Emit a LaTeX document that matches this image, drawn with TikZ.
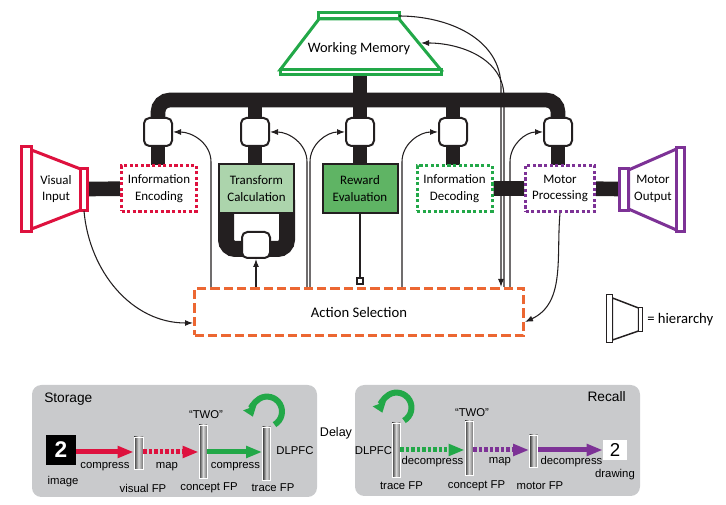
\documentclass[tikz,border=0pt]{standalone}
\usepackage{fontspec}
\setmainfont{Carlito}
\newfontfamily\arialfont{Liberation Sans}
\usepackage{tikz}
\usetikzlibrary{calc,positioning,arrows.meta,backgrounds}

\definecolor{vred}{RGB}{222,17,62}
\definecolor{wmgreen}{RGB}{34,168,72}
\definecolor{lgreen}{RGB}{172,212,172}
\definecolor{mgreen}{RGB}{95,180,100}
\definecolor{mpurple}{RGB}{125,50,150}
\definecolor{aorange}{RGB}{236,103,50}
\definecolor{panelgray}{RGB}{201,202,204}
\definecolor{barblack}{RGB}{35,31,32}

\tikzset{
  bus/.style={draw=barblack, line width=11pt},
  gate/.style={draw=barblack, fill=white, line width=1.5pt, rounded corners=4pt,
    minimum width=21pt, minimum height=21pt, inner sep=0pt},
  boxtext/.style={align=center, inner sep=0pt, font=\fontsize{9.7}{12.5}\selectfont},
  dotbox/.style={boxtext, draw, fill=white, line width=2.25pt, dash pattern=on 2.4pt off 1.8pt,
    minimum width=56.25pt, minimum height=34.5pt},
  solidbox/.style={boxtext, draw=barblack, line width=1.5pt,
    minimum width=56.25pt, minimum height=36.75pt},
  hier/.style={line width=2.25pt, fill=white, line join=miter},
  conn/.style={draw=barblack, line width=0.8pt},
  arr/.style={conn, -{Latex[length=6pt,width=4.5pt]}},
  lab/.style={inner sep=0pt, font=\arialfont\fontsize{8.5}{10}\selectfont},
  fp/.style={draw=white, line width=0.6pt, inner sep=0pt, minimum width=6pt,
    left color=black!80, right color=black!55, middle color=black!15},
  bigarr/.style={line width=3.75pt, -{Triangle[length=12pt,width=8.5pt]}},
  dasharr/.style={bigarr, dash pattern=on 2.5pt off 1.6pt},
  looparr/.style={draw=wmgreen, line width=4.5pt, -{Triangle[length=7pt,width=10pt]}},
}

\begin{document}
\begin{tikzpicture}[x=0.75pt,y=0.75pt]
    \useasboundingbox (0,0) rectangle (726,-505);

    % working memory
    \draw[hier, draw=wmgreen] (319,-19) -- (280,-70) -- (441,-70) -- (399,-19) -- cycle;
    \draw[hier, draw=wmgreen] (318,-13) rectangle (399,-19);
    \draw[hier, draw=wmgreen] (280,-70) rectangle (441,-75);
    \node[font=\fontsize{10.8}{13}\selectfont] (wm) at (359,-49) {Working Memory};
    \coordinate (wmtr) at (399,-16);
    \coordinate (wmin) at (421,-43);
    \coordinate (wmb) at (360,-74);
    \coordinate (busy) at (0,-100);

    \foreach \x [count=\i] in {158,255,360,453,558} {
        \node[gate] (g\i) at (\x,-132) {};
    }
    \node[gate, minimum height=19.5pt] (g6) at (256,-245) {};

    \node[dotbox, draw=vred] (enc) at (159,-188.5) {Information\\Encoding};
    \node[solidbox, fill=lgreen] (trans) at (256.5,-188.5) {Transform\\Calculation};
    \node[solidbox, fill=mgreen] (rew) at (360,-188.5) {Reward\\Evaluation};
    \node[dotbox, draw=wmgreen] (dec) at (454.5,-188.5) {Information\\Decoding};
    \node[dotbox, draw=mpurple, minimum width=51.75pt] (mot) at (560,-188.5) {Motor\\Processing};

    % visual input
    \draw[hier, draw=vred] (31.5,-150) -- (80.5,-169) -- (80.5,-210) -- (31.5,-229) -- cycle;
    \draw[hier, draw=vred] (21.5,-146.5) rectangle (31.5,-231.5);
    \draw[hier, draw=vred] (80.5,-168.5) rectangle (87.5,-210.5);
    \node[boxtext] (vin) at (56,-189) {Visual\\Input};
    \coordinate (vinr) at (84,-189);
    \coordinate (vinb) at (84,-211);

    % motor output
    \draw[hier, draw=mpurple] (628.5,-170) -- (676.5,-149) -- (676.5,-230) -- (628.5,-209) -- cycle;
    \draw[hier, draw=mpurple] (619.5,-168.5) rectangle (628.5,-210.5);
    \draw[hier, draw=mpurple] (676.5,-147.5) rectangle (684.5,-231.5);
    \node[boxtext] (mout) at (653,-189) {Motor\\Output};
    \coordinate (moutl) at (624,-189);

    \node[draw=aorange, line width=2.25pt, dash pattern=on 7pt off 3pt,
        minimum width=246.75pt, minimum height=35.25pt,
        font=\fontsize{11}{13}\selectfont] (act) at (359,-312) {Action Selection};
    \node[draw=barblack, fill=white, line width=1.5pt, minimum size=4.5pt, inner sep=0pt] (rsq) at (360,-281) {};

    \begin{scope}[on background layer]
    \draw[bus] (wmb) -- (wmb |- busy);
    \draw[bus, rounded corners=9pt] (g1) -- (g1 |- busy) -- (g5 |- busy) -- (g5);
    \foreach \i/\b in {1/enc,2/trans,3/rew,4/dec,5/mot} {
        \draw[bus] (g\i) -- (g\i |- \b);
    }
    \foreach \i in {2,3,4} {
        \draw[bus] (g\i) -- (g\i |- busy);
    }
    \draw[bus] (vinr) -- (enc);
    \draw[bus] (dec) -- (mot) -- (moutl);
    \draw[bus, line width=12pt, rounded corners=7pt] (226,-200) -- (226,-249) -- (287,-249) -- (287,-200);
    \fill[panelgray, rounded corners=7pt] (32,-385) rectangle (317,-497);
    \fill[panelgray, rounded corners=7pt] (355,-385) rectangle (640,-496);
    \end{scope}

    % thin connectors
    \draw[arr] (vinb) to[out=-85,in=180] ($(act.west)+(0,-11)$);
    \draw[arr] ($(act.north)+(-148,0)$) -- ++(0,125) to[out=90,in=0] (g1.east);
    \draw[arr] ($(act.north)+(-52,0)$) -- ++(0,125) to[out=90,in=0] (g2.east);
    \draw[arr] ($(act.north)+(-49,0)$) -- ++(0,125) to[out=90,in=180] (g3.west);
    \draw[arr] ($(act.north)+(-103,0)$) -- (g6.south);
    \draw[conn] (rew) -- (rsq);
    \draw[arr] ($(act.north)+(43,0)$) -- ++(0,125) to[out=90,in=180] (g4.west);
    \draw[arr] ($(act.north)+(151,0)$) -- ++(0,125) to[out=90,in=180] (g5.west);
    \draw[arr] (wmtr) to[out=0,in=90] ($(act.north)+(142,200)$) -- ($(act.north)+(142,0)$);
    \draw[arr] ($(act.north)+(145,0)$) -- ++(0,190) to[out=90,in=0] (wmin);
    \draw[arr] (mot.south) to[out=-95,in=25] ($(act.east)+(0,-10)$);

    % legend
    \draw[conn, line width=1.1pt, fill=white] (612.5,-298) -- (638.5,-308) -- (638.5,-331) -- (612.5,-340) -- cycle;
    \draw[conn, line width=1.1pt, fill=white] (606.5,-294.5) rectangle (612.5,-342.5);
    \draw[conn, line width=1.1pt, fill=white] (638.5,-307.5) rectangle (642.5,-331.5);
    \node[anchor=west, inner sep=0pt, font=\fontsize{11}{13}\selectfont] (leg) at (647,-320) {= hierarchy};

    % storage
    \coordinate (sy) at (0,-452);
    \node[lab, anchor=west, font=\arialfont\fontsize{10.3}{12}\selectfont] (storage) at (44,-399) {Storage};
    \node[fill=black, minimum size=22.5pt, inner sep=0pt, text=white,
        font=\arialfont\bfseries\fontsize{17}{17}\selectfont] (img) at (61,-450) {2};
    \node[fp, minimum width=6.75pt, minimum height=24pt] (vfp) at (138.5,-453) {};
    \node[fp, minimum height=39.75pt] (cfp) at (203,-451.5) {};
    \node[fp, minimum height=39.75pt] (tfp) at (266.5,-453.5) {};
    \draw[bigarr, vred] (img.east |- sy) -- (vfp.west |- sy);
    \draw[dasharr, vred] (vfp.east |- sy) -- (cfp.west |- sy);
    \draw[bigarr, wmgreen] (cfp.east |- sy) -- (tfp.west |- sy);
    \draw[looparr] ($(tfp.north)+(8,2)$) arc[start angle=-60, end angle=200, radius=11.25pt];
    \node[lab] (imgl) at (63,-482) {image};
    \node[lab] (cmp1) at (105,-467) {compress};
    \node[lab] (map1) at (167,-467) {map};
    \node[lab] (cmp2) at (235.5,-467) {compress};
    \node[lab] (vfpl) at (143,-488) {visual FP};
    \node[lab] (cfpl) at (209,-488) {concept FP};
    \node[lab] (tfpl) at (273,-488) {trace FP};
    \node[lab] (two1) at (206,-415) {“TWO”};
    \node[lab] (dl1) at (295,-451) {DLPFC};

    \node[lab, font=\arialfont\fontsize{9.4}{11}\selectfont] (delay) at (336,-433) {Delay};

    % recall
    \coordinate (ry) at (0,-450);
    \node[lab, anchor=east, font=\arialfont\fontsize{10.3}{12}\selectfont] (recall) at (626,-397) {Recall};
    \node[fp, minimum height=40.5pt] (rtfp) at (396,-450) {};
    \node[fp, minimum height=40.5pt] (rcfp) at (469,-448) {};
    \node[fp, minimum height=24pt] (mfp) at (533.5,-451) {};
    \node[fill=white, minimum width=18pt, minimum height=15pt, inner sep=0pt,
        font=\arialfont\fontsize{14}{14}\selectfont] (drw) at (615,-450) {2};
    \draw[dasharr, wmgreen] (rtfp.east |- ry) -- (rcfp.west |- ry);
    \draw[dasharr, mpurple] (rcfp.east |- ry) -- (mfp.west |- ry);
    \draw[bigarr, mpurple] (mfp.east |- ry) -- (drw.west |- ry);
    \draw[looparr] ($(rtfp.north)+(8,2)$) arc[start angle=-60, end angle=200, radius=11.25pt];
    \node[lab] (dl2) at (373.5,-451) {DLPFC};
    \node[lab] (dcp1) at (432.5,-462) {decompress};
    \node[lab] (map2) at (500,-462) {map};
    \node[lab] (dcp2) at (571.5,-462) {decompress};
    \node[lab] (rtfpl) at (401.5,-486) {trace FP};
    \node[lab] (rcfpl) at (476.5,-486) {concept FP};
    \node[lab] (mfpl) at (540,-486) {motor FP};
    \node[lab] (two2) at (472,-413) {“TWO”};
    \node[lab] (drwl) at (615,-475) {drawing};
\end{tikzpicture}
\end{document}
